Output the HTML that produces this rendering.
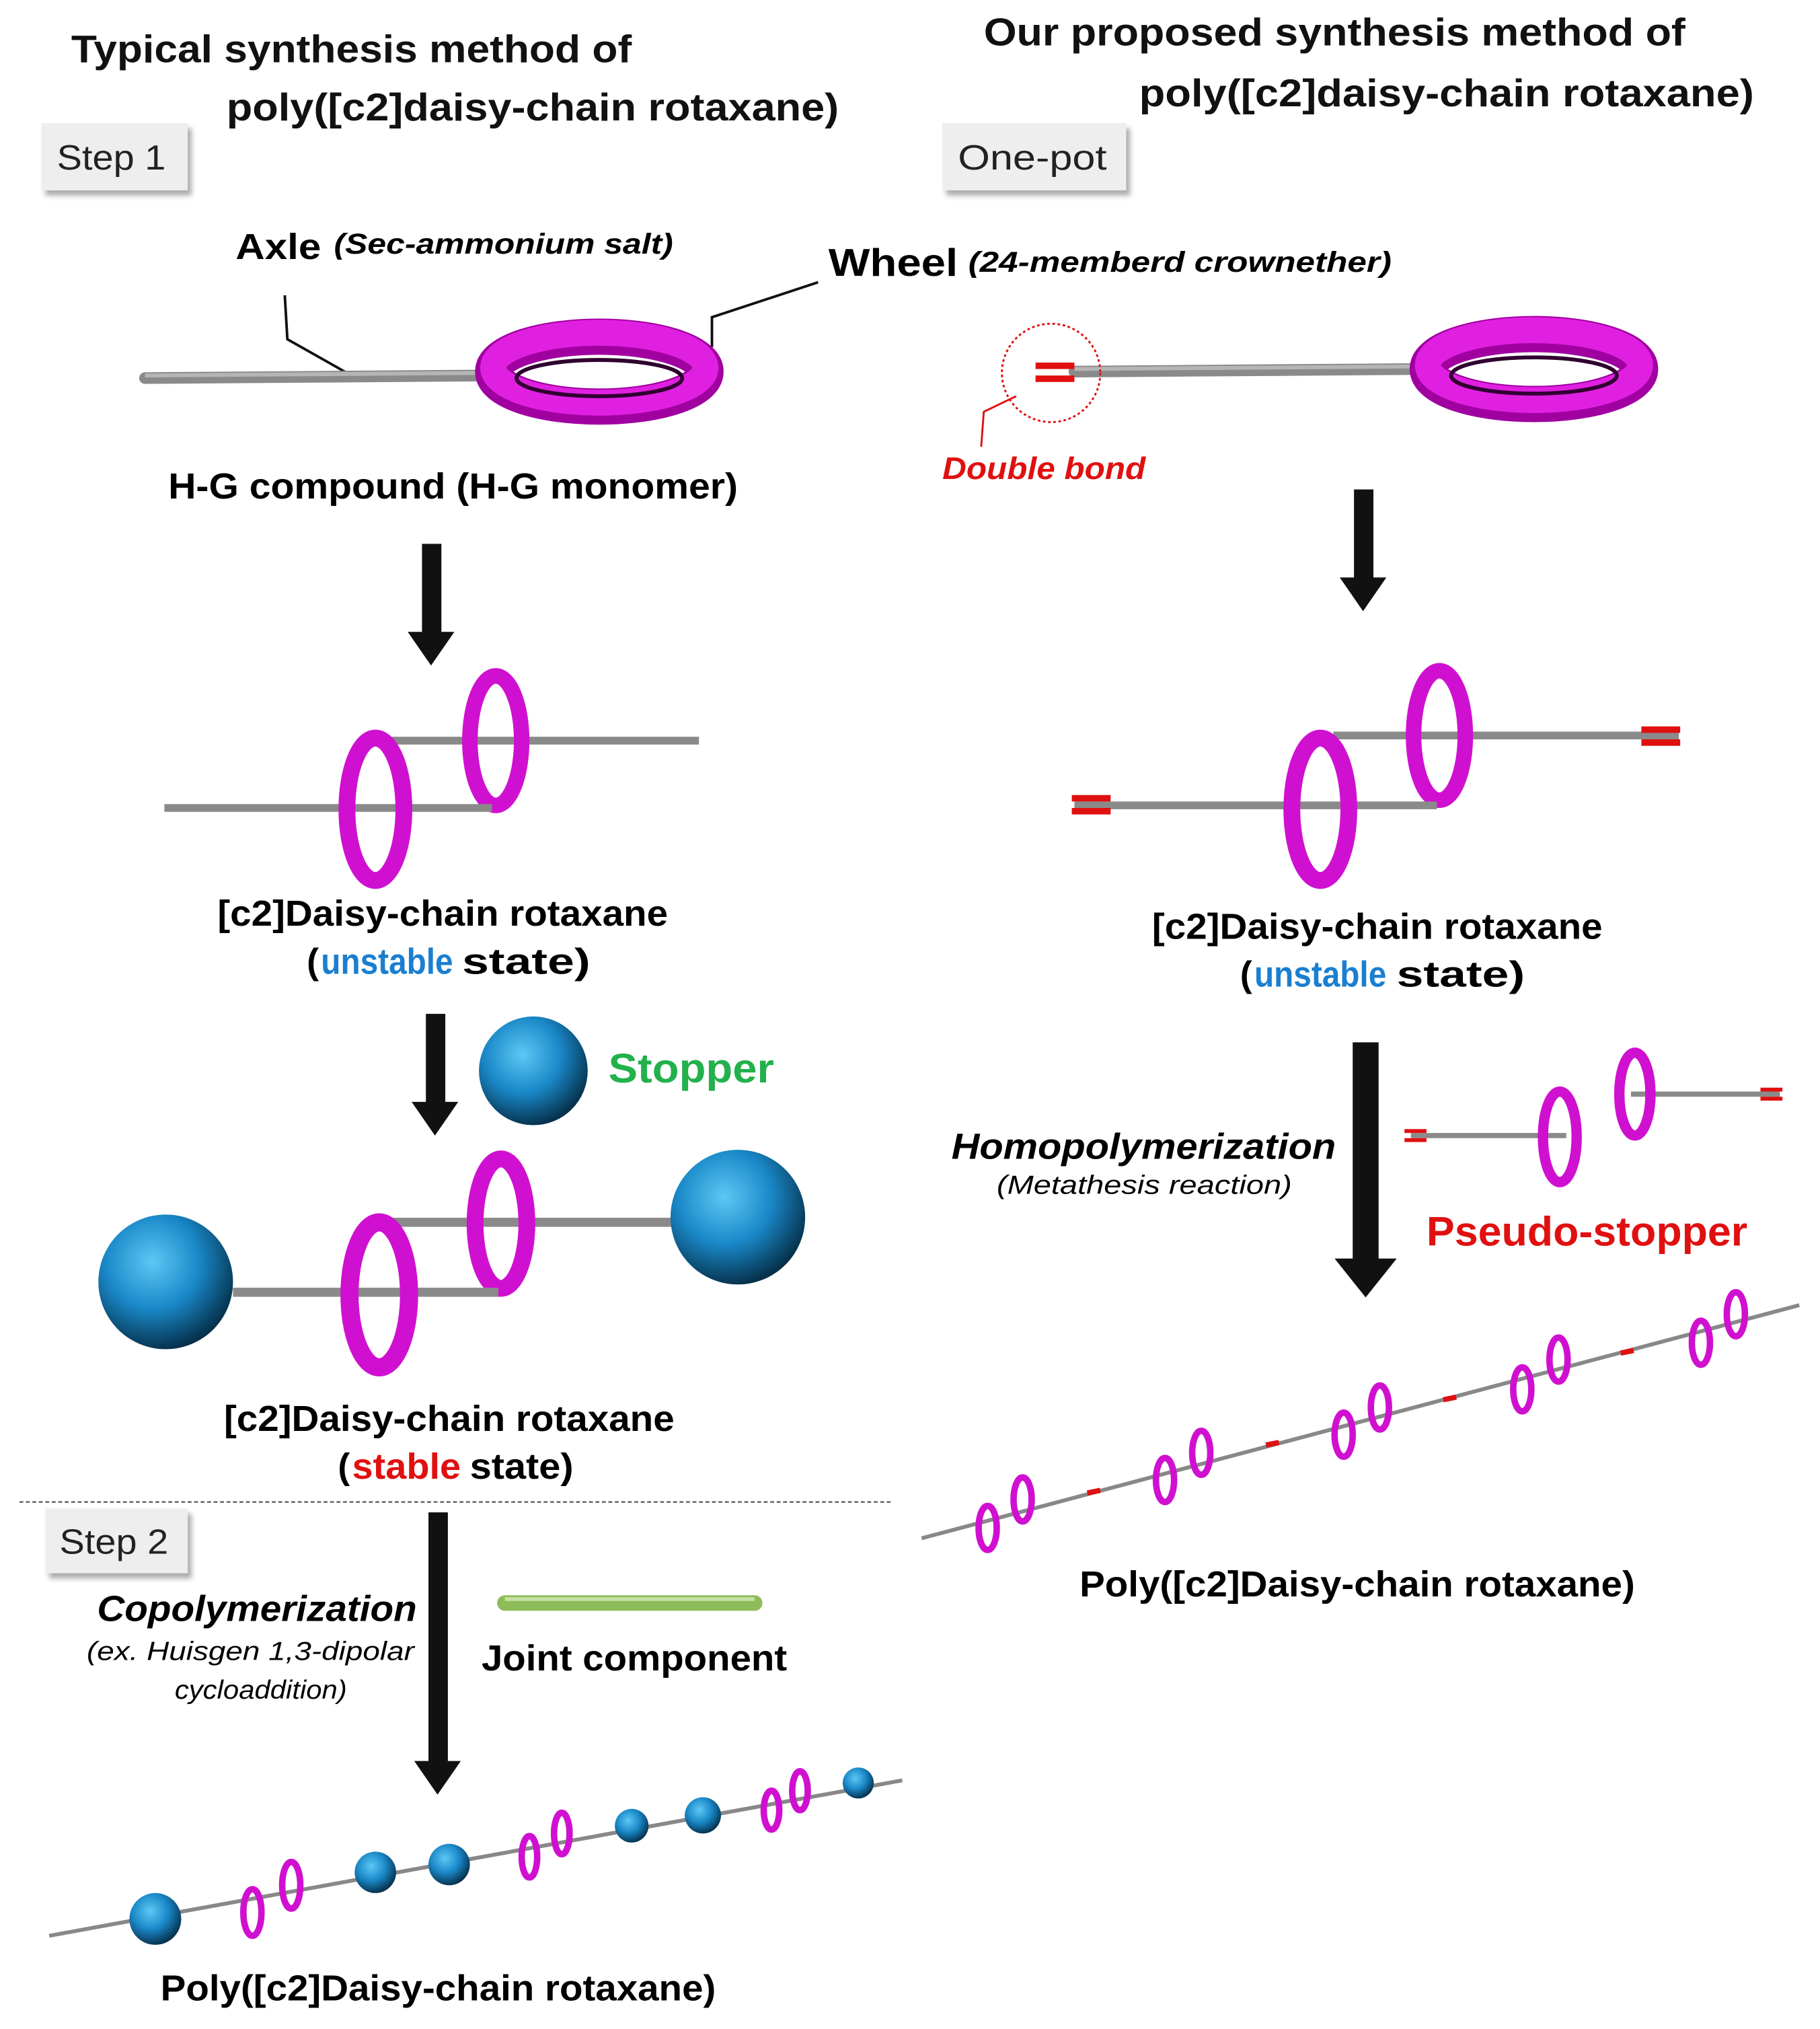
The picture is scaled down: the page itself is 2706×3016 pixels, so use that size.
<!DOCTYPE html>
<html><head><meta charset="utf-8"><style>html,body{margin:0;padding:0;background:#fff}svg{display:block}</style></head><body>
<svg width="2706" height="3016" viewBox="0 0 1406 1567" preserveAspectRatio="none" xmlns="http://www.w3.org/2000/svg" font-family="Liberation Sans, sans-serif">
<defs>
<radialGradient id="sph" cx="0.4" cy="0.35" r="0.7"><stop offset="0" stop-color="#5cc8f5"/><stop offset="0.5" stop-color="#1a88c8"/><stop offset="1" stop-color="#03273d"/></radialGradient>
<filter id="sh"><feDropShadow dx="3" dy="4" stdDeviation="2" flood-color="#888" flood-opacity="0.7"/></filter>
</defs>
<g font-weight="bold" fill="#111" font-size="30">
<text x="55" y="48" textLength="433" lengthAdjust="spacingAndGlyphs">Typical synthesis method of</text>
<text x="175" y="93" textLength="473" lengthAdjust="spacingAndGlyphs">poly([c2]daisy-chain rotaxane)</text>
<text x="760" y="35" textLength="542" lengthAdjust="spacingAndGlyphs">Our proposed synthesis method of</text>
<text x="880" y="82" textLength="475" lengthAdjust="spacingAndGlyphs">poly([c2]daisy-chain rotaxane)</text>
</g>
<g filter="url(#sh)" fill="#eeeeee"><rect x="32" y="95" width="113" height="52"/><rect x="728" y="95" width="142" height="52"/><rect x="35" y="1165" width="110" height="50"/></g>
<g font-size="27" fill="#222">
<text x="44" y="131" textLength="84" lengthAdjust="spacingAndGlyphs">Step 1</text>
<text x="740" y="131" textLength="115" lengthAdjust="spacingAndGlyphs">One-pot</text>
<text x="46" y="1200" textLength="84" lengthAdjust="spacingAndGlyphs">Step 2</text>
</g>
<text x="182" y="200" font-size="28" font-weight="bold" textLength="66" lengthAdjust="spacingAndGlyphs">Axle</text>
<text x="258" y="196" font-size="22" font-weight="bold" font-style="italic" textLength="262" lengthAdjust="spacingAndGlyphs">(Sec-ammonium  salt)</text>
<text x="640" y="213" font-size="30" font-weight="bold" textLength="100" lengthAdjust="spacingAndGlyphs">Wheel</text>
<text x="748" y="210" font-size="22" font-weight="bold" font-style="italic" textLength="327" lengthAdjust="spacingAndGlyphs">(24-memberd crownether)</text>
<polyline points="220,228 222,262 268,288" fill="none" stroke="#111" stroke-width="2"/>
<polyline points="632,218 550,245 550,268" fill="none" stroke="#111" stroke-width="2"/>
<!-- left monomer -->
<line x1="112" y1="292" x2="375" y2="290" stroke="#8a8a8a" stroke-width="9" stroke-linecap="round"/>
<line x1="112" y1="290" x2="375" y2="288" stroke="#b5b5b5" stroke-width="3"/>
<ellipse cx="463" cy="287" rx="82" ry="27" fill="none" stroke="#a000a0" stroke-width="28"/>
<ellipse cx="463" cy="284" rx="82" ry="27" fill="none" stroke="#e020e0" stroke-width="20"/>
<ellipse cx="463" cy="292" rx="64" ry="14" fill="none" stroke="#300030" stroke-width="3"/>
<text x="130" y="385" font-size="28" font-weight="bold" textLength="440" lengthAdjust="spacingAndGlyphs">H-G compound (H-G monomer)</text>
<!-- right monomer -->
<line x1="830" y1="287" x2="1095" y2="285" stroke="#8a8a8a" stroke-width="9" stroke-linecap="round"/>
<line x1="830" y1="285" x2="1095" y2="283" stroke="#b5b5b5" stroke-width="3"/>
<ellipse cx="1185" cy="285" rx="82" ry="27" fill="none" stroke="#a000a0" stroke-width="28"/>
<ellipse cx="1185" cy="282" rx="82" ry="27" fill="none" stroke="#e020e0" stroke-width="20"/>
<ellipse cx="1185" cy="290" rx="64" ry="14" fill="none" stroke="#300030" stroke-width="3"/>
<rect x="800" y="280" width="30" height="5" fill="#e01010"/><rect x="800" y="290" width="30" height="5" fill="#e01010"/>
<circle cx="812" cy="288" r="38" fill="none" stroke="#e01010" stroke-width="1.5" stroke-dasharray="2,2"/>
<polyline points="785,306 760,318 758,345" fill="none" stroke="#e01010" stroke-width="1.5"/>
<text x="728" y="370" font-size="24" font-weight="bold" font-style="italic" fill="#e01010" textLength="157" lengthAdjust="spacingAndGlyphs">Double bond</text>
<!-- arrows -->
<g fill="#111">
<rect x="326" y="420" width="15" height="70"/><polygon points="315,488 351,488 333,514"/>
<rect x="1046" y="378" width="15" height="70"/><polygon points="1035,446 1071,446 1053,472"/>
<rect x="329" y="783" width="15" height="70"/><polygon points="318,851 354,851 336,877"/>
<rect x="331" y="1168" width="15" height="195"/><polygon points="320,1360 356,1360 338,1386"/>
<rect x="1045" y="805" width="20" height="170"/><polygon points="1031,972 1079,972 1055,1002"/>
</g>
<!-- left daisy unstable -->
<line x1="300" y1="572" x2="540" y2="572" stroke="#8a8a8a" stroke-width="6"/>
<ellipse cx="383" cy="572" rx="20" ry="50" fill="none" stroke="#d010d0" stroke-width="12"/>
<line x1="127" y1="624" x2="380" y2="624" stroke="#8a8a8a" stroke-width="6"/>
<ellipse cx="290" cy="625" rx="22" ry="55" fill="none" stroke="#d010d0" stroke-width="13"/>
<g font-size="28" font-weight="bold">
<text x="168" y="715" textLength="348" lengthAdjust="spacingAndGlyphs">[c2]Daisy-chain rotaxane</text>
<text x="237" y="752">(</text><text x="248" y="752" fill="#1a7fd0" textLength="102" lengthAdjust="spacingAndGlyphs">unstable</text><text x="357" y="752" textLength="99" lengthAdjust="spacingAndGlyphs">state)</text>
<text x="890" y="725" textLength="348" lengthAdjust="spacingAndGlyphs">[c2]Daisy-chain rotaxane</text>
<text x="958" y="762">(</text><text x="969" y="762" fill="#1a7fd0" textLength="102" lengthAdjust="spacingAndGlyphs">unstable</text><text x="1079" y="762" textLength="99" lengthAdjust="spacingAndGlyphs">state)</text>
<text x="173" y="1105" textLength="348" lengthAdjust="spacingAndGlyphs">[c2]Daisy-chain rotaxane</text>
<text x="261" y="1142">(</text><text x="272" y="1142" fill="#e01010" textLength="84" lengthAdjust="spacingAndGlyphs">stable</text><text x="363" y="1142" textLength="80" lengthAdjust="spacingAndGlyphs">state)</text>
<text x="372" y="1290" textLength="236" lengthAdjust="spacingAndGlyphs">Joint component</text>
<text x="124" y="1545" textLength="429" lengthAdjust="spacingAndGlyphs">Poly([c2]Daisy-chain rotaxane)</text>
<text x="834" y="1233" textLength="429" lengthAdjust="spacingAndGlyphs">Poly([c2]Daisy-chain rotaxane)</text>
</g>
<!-- right daisy unstable -->
<line x1="1030" y1="568" x2="1297" y2="568" stroke="#8a8a8a" stroke-width="6"/>
<ellipse cx="1112" cy="568" rx="20" ry="50" fill="none" stroke="#d010d0" stroke-width="12"/>
<line x1="830" y1="622" x2="1110" y2="622" stroke="#8a8a8a" stroke-width="6"/>
<ellipse cx="1020" cy="625" rx="22" ry="55" fill="none" stroke="#d010d0" stroke-width="13"/>
<g fill="#e01010"><rect x="828" y="614" width="30" height="5"/><rect x="828" y="624" width="30" height="5"/><rect x="1268" y="561" width="30" height="5"/><rect x="1268" y="571" width="30" height="5"/></g>
<!-- stopper -->
<circle cx="412" cy="827" r="42" fill="url(#sph)"/>
<text x="470" y="836" font-size="32" font-weight="bold" fill="#22b14c" textLength="128" lengthAdjust="spacingAndGlyphs">Stopper</text>
<!-- stable daisy -->
<line x1="300" y1="944" x2="520" y2="944" stroke="#8a8a8a" stroke-width="7"/>
<ellipse cx="387" cy="945" rx="20" ry="50" fill="none" stroke="#d010d0" stroke-width="13"/>
<line x1="180" y1="998" x2="385" y2="998" stroke="#8a8a8a" stroke-width="7"/>
<ellipse cx="293" cy="1000" rx="23" ry="56" fill="none" stroke="#d010d0" stroke-width="14"/>
<circle cx="128" cy="990" r="52" fill="url(#sph)"/>
<circle cx="570" cy="940" r="52" fill="url(#sph)"/>
<line x1="15" y1="1160" x2="688" y2="1160" stroke="#444" stroke-width="1" stroke-dasharray="3,2"/>
<text x="322" y="1252" text-anchor="end" font-size="28" font-weight="bold" font-style="italic" textLength="247" lengthAdjust="spacingAndGlyphs">Copolymerization</text>
<text x="67" y="1282" font-size="20" font-style="italic" textLength="253" lengthAdjust="spacingAndGlyphs">(ex. Huisgen 1,3-dipolar</text>
<text x="135" y="1312" font-size="20" font-style="italic" textLength="133" lengthAdjust="spacingAndGlyphs">cycloaddition)</text>
<line x1="390" y1="1238" x2="583" y2="1238" stroke="#8fbc5a" stroke-width="12" stroke-linecap="round"/>
<line x1="390" y1="1235" x2="583" y2="1235" stroke="#c4e0a0" stroke-width="3"/>
<!-- left polymer -->
<line x1="38" y1="1495" x2="697" y2="1375" stroke="#888" stroke-width="3"/>
<g fill="none" stroke="#d010d0" stroke-width="5">
<ellipse cx="195" cy="1477" rx="7" ry="18"/><ellipse cx="225" cy="1456" rx="7" ry="18"/>
<ellipse cx="409" cy="1434" rx="6" ry="16"/><ellipse cx="434" cy="1416" rx="6" ry="16"/>
<ellipse cx="596" cy="1398" rx="6" ry="15"/><ellipse cx="618" cy="1383" rx="6" ry="15"/>
</g>
<g fill="url(#sph)"><circle cx="120" cy="1482" r="20"/><circle cx="290" cy="1446" r="16"/><circle cx="347" cy="1440" r="16"/><circle cx="488" cy="1410" r="13"/><circle cx="543" cy="1402" r="14"/><circle cx="663" cy="1377" r="12"/></g>
<!-- right part -->
<text x="735" y="895" font-size="28" font-weight="bold" font-style="italic" textLength="297" lengthAdjust="spacingAndGlyphs">Homopolymerization</text>
<text x="770" y="922" font-size="20" font-style="italic" textLength="228" lengthAdjust="spacingAndGlyphs">(Metathesis reaction)</text>
<line x1="1260" y1="845" x2="1375" y2="845" stroke="#8a8a8a" stroke-width="4"/>
<ellipse cx="1263" cy="845" rx="12" ry="32" fill="none" stroke="#d010d0" stroke-width="8"/>
<line x1="1090" y1="877" x2="1210" y2="877" stroke="#8a8a8a" stroke-width="4"/>
<ellipse cx="1205" cy="878" rx="13" ry="35" fill="none" stroke="#d010d0" stroke-width="8"/>
<g fill="#e01010"><rect x="1085" y="872" width="17" height="3"/><rect x="1085" y="879" width="17" height="3"/><rect x="1360" y="840" width="17" height="3"/><rect x="1360" y="847" width="17" height="3"/></g>
<text x="1102" y="962" font-size="32" font-weight="bold" fill="#e01010" textLength="248" lengthAdjust="spacingAndGlyphs">Pseudo-stopper</text>
<line x1="712" y1="1188" x2="1390" y2="1008" stroke="#888" stroke-width="3"/>
<g stroke="#e01010" stroke-width="4"><line x1="840" y1="1153" x2="850" y2="1151"/><line x1="978" y1="1116" x2="988" y2="1114"/><line x1="1115" y1="1081" x2="1125" y2="1079"/><line x1="1252" y1="1045" x2="1262" y2="1043"/></g>
<g fill="none" stroke="#d010d0" stroke-width="5">
<ellipse cx="763" cy="1180" rx="7" ry="17"/><ellipse cx="790" cy="1158" rx="7" ry="17"/>
<ellipse cx="900" cy="1143" rx="7" ry="17"/><ellipse cx="928" cy="1122" rx="7" ry="17"/>
<ellipse cx="1038" cy="1108" rx="7" ry="17"/><ellipse cx="1066" cy="1087" rx="7" ry="17"/>
<ellipse cx="1176" cy="1073" rx="7" ry="17"/><ellipse cx="1204" cy="1050" rx="7" ry="17"/>
<ellipse cx="1314" cy="1037" rx="7" ry="17"/><ellipse cx="1341" cy="1015" rx="7" ry="17"/>
</g>
</svg>
</body></html>
